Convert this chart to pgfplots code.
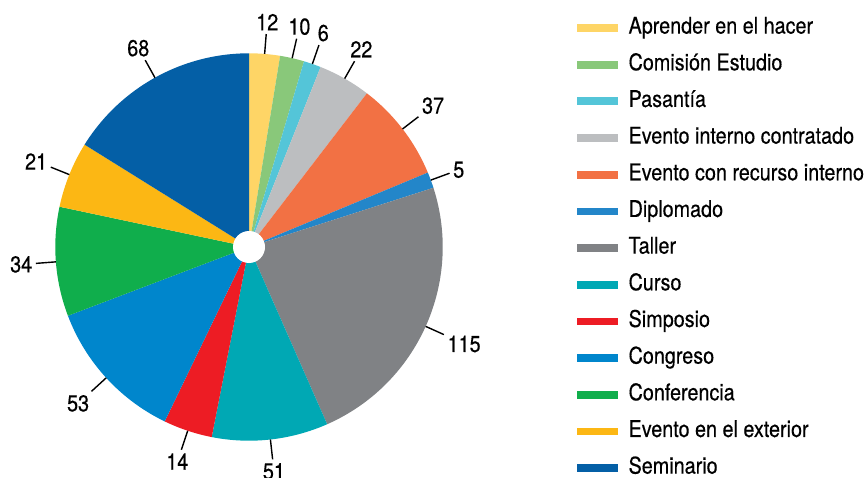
\documentclass[border=0pt]{standalone}
\usepackage{pgfplots}
\pgfplotsset{compat=1.18}
\usepackage{pgfplotstable}
\usepackage{fontspec}
\setmainfont{TeX Gyre Heros}[FakeStretch=0.86, FakeBold=0.4]

\definecolor{cAprender}{RGB}{254,213,102}
\definecolor{cComision}{RGB}{137,200,122}
\definecolor{cPasantia}{RGB}{84,197,216}
\definecolor{cEvInt}{RGB}{188,190,192}
\definecolor{cEvRec}{RGB}{242,113,68}
\definecolor{cDiplomado}{RGB}{35,134,201}
\definecolor{cTaller}{RGB}{128,130,133}
\definecolor{cCurso}{RGB}{0,168,180}
\definecolor{cSimposio}{RGB}{237,28,36}
\definecolor{cCongreso}{RGB}{0,134,204}
\definecolor{cConferencia}{RGB}{16,174,76}
\definecolor{cEvExt}{RGB}{252,183,20}
\definecolor{cSeminario}{RGB}{4,95,166}

% value = printed label; start/stop = slice edges in degrees, clockwise from 12 o'clock,
% as drawn in the reference
\pgfplotstableread{
value start stop col
12  0     9.25  cAprender
10  9.25  16.5  cComision
6   16.5  21.7  cPasantia
22  21.7  37.5  cEvInt
37  37.5  67.4  cEvRec
5   67.4  72.2  cDiplomado
115 72.2  156.2 cTaller
51  156.2 191.1 cCurso
14  191.1 205.8 cSimposio
53  205.8 249.2 cCongreso
34  249.2 282.0 cConferencia
21  282.0 301.9 cEvExt
68  301.9 360   cSeminario
}\slices

\newcommand\bigfont{\fontsize{23}{27}\selectfont}

\begin{document}
\begin{tikzpicture}
\useasboundingbox (0,0) rectangle (866pt,477pt);
\begin{axis}[
  at={(0,0)}, anchor=south west,
  scale only axis, width=866pt, height=477pt,
  xmin=0, xmax=866, ymin=0, ymax=477,
  hide axis, clip=false,
  legend style={at={(axis cs:577,460.3)}, anchor=north west,
    draw=none, fill=none, inner sep=0pt, font=\bigfont,
    row sep=14.97pt,
    nodes={inner sep=0pt, text height=16.7pt, text depth=5pt}},
  legend cell align=left,
  legend image code/.code={
    \fill[#1] (0pt,-3.4pt) rectangle (40pt,3.4pt);
    \path (51pt,0pt);},
]
\pgfplotsextra{
  \foreach \i in {0,...,12}{
    \pgfplotstablegetelem{\i}{start}\of\slices \let\sa\pgfplotsretval
    \pgfplotstablegetelem{\i}{stop}\of\slices \let\sb\pgfplotsretval
    \pgfplotstablegetelem{\i}{col}\of\slices \let\sc\pgfplotsretval
    \pgfmathsetmacro\aa{90-\sa}
    \pgfmathsetmacro\ab{90-\sb}
    \fill[\sc] (axis cs:249,230) -- ++(\aa:193.7pt)
      arc[start angle=\aa, end angle=\ab, radius=193.7pt] -- cycle;
  }
  \foreach \i in {0,...,12}{
    \pgfplotstablegetelem{\i}{start}\of\slices \let\sa\pgfplotsretval
    \pgfplotstablegetelem{\i}{stop}\of\slices \let\sb\pgfplotsretval
    \pgfplotstablegetelem{\i}{value}\of\slices \let\sv\pgfplotsretval
    \pgfmathsetmacro\am{90-(\sa+\sb)/2}
    \pgfmathtruncatemacro\an{\am+180}
    \draw[line width=1.4pt] (axis cs:249,230) ++(\am:193.7pt) -- ++(\am:20pt)
      node[anchor=\an, inner sep=3pt, font=\bigfont] {\sv};
  }
  \fill[white] (axis cs:249,230) circle[radius=16pt];
}
\addlegendimage{cAprender}\addlegendentry{Aprender en el hacer}
\addlegendimage{cComision}\addlegendentry{Comisión Estudio}
\addlegendimage{cPasantia}\addlegendentry{Pasantía}
\addlegendimage{cEvInt}\addlegendentry{Evento interno contratado}
\addlegendimage{cEvRec}\addlegendentry{Evento con recurso interno}
\addlegendimage{cDiplomado}\addlegendentry{Diplomado}
\addlegendimage{cTaller}\addlegendentry{Taller}
\addlegendimage{cCurso}\addlegendentry{Curso}
\addlegendimage{cSimposio}\addlegendentry{Simposio}
\addlegendimage{cCongreso}\addlegendentry{Congreso}
\addlegendimage{cConferencia}\addlegendentry{Conferencia}
\addlegendimage{cEvExt}\addlegendentry{Evento en el exterior}
\addlegendimage{cSeminario}\addlegendentry{Seminario}
\end{axis}
\end{tikzpicture}
\end{document}
